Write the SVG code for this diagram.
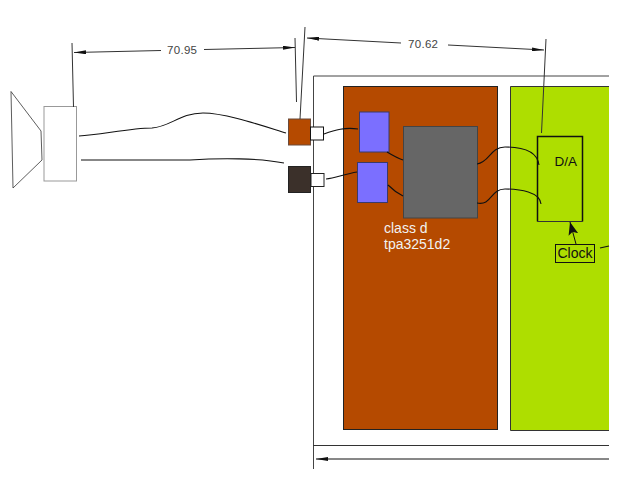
<svg xmlns="http://www.w3.org/2000/svg" width="638" height="479" viewBox="0 0 638 479">
<style>
text{font-family:"Liberation Sans",Arial,sans-serif}
.dim{font-size:11.5px;fill:#444;letter-spacing:.3px}
.l{fill:none;stroke:#333;stroke-width:1}
.w{fill:none;stroke:#111;stroke-width:1.100}
.b{fill:#7b6fff;stroke:#3a3a6a;stroke-width:1}
.t{font-size:14px;fill:#f2f2f2}
</style>
<defs>
<marker id="a" viewBox="0 0 12 4" refX="0" refY="2" markerWidth="12" markerHeight="4" markerUnits="userSpaceOnUse" orient="auto"><path d="M0 2L12 0V4Z" fill="#111"/></marker>
<marker id="e" viewBox="0 0 12 4" refX="12" refY="2" markerWidth="12" markerHeight="4" markerUnits="userSpaceOnUse" orient="auto"><path d="M12 2L0 0V4Z" fill="#111"/></marker>
<marker id="h" viewBox="0 0 13 10" refX="13" refY="5" markerWidth="13" markerHeight="10" markerUnits="userSpaceOnUse" orient="auto"><path d="M13 5L0 0L3 5L0 10Z" fill="#111"/></marker>
</defs>
<rect width="638" height="479" fill="#fff"/>
<g id="enclosure"><path d="M609 76H313.500V469" fill="none" stroke="#444" stroke-width="1"/><path d="M313 445.500H609" stroke="#333" stroke-width="1"/></g>
<g id="speaker"><path d="M11 91.500L41 131L42 160L13 188Z" fill="#fff" stroke="#333" stroke-width=".8"/><rect x="44" y="106.500" width="32.500" height="74.500" fill="#fff" stroke="#999" stroke-width="1"/></g>
<g id="class-d-board"><rect x="343.500" y="86.500" width="154" height="343" fill="#b54a00" stroke="#222" stroke-width="1"/><text class="t" x="384" y="233">class d</text><text class="t" x="384" y="249">tpa3251d2</text></g>
<g id="green-board"><path d="M609 86.500H510.500V430.500H609" fill="#aede00" stroke="#333" stroke-width="1"/></g>
<g id="connector-top"><rect x="288.500" y="119" width="22" height="26" fill="#b54a00" stroke="#6a4a3a" stroke-width="1"/><rect x="310.500" y="127" width="13" height="13" fill="#fff" stroke="#111" stroke-width="1"/></g>
<g id="connector-bottom"><rect x="288.500" y="166.500" width="22" height="26" fill="#3b302a" stroke="#222" stroke-width="1"/><rect x="311" y="173.500" width="13" height="13" fill="#fff" stroke="#222" stroke-width="1"/></g>
<g id="amp-top"><rect x="359.500" y="112" width="29.500" height="40" class="b"/></g>
<g id="amp-bottom"><rect x="357.500" y="162.500" width="30" height="40" class="b"/></g>
<g id="chip"><rect x="403.500" y="126.500" width="74" height="91.500" fill="#666" stroke="#444" stroke-width="1"/></g>
<g id="dac"><path d="M537.500 136.500V221.500H582.500" fill="#aede00" stroke="#555" stroke-width="1"/><path d="M537.500 221.500V136.500H582.500V221.500" fill="#aede00" stroke="#111" stroke-width="1.500"/><path d="M537.500 221.500H582.500" stroke="#333" stroke-width="1"/><text x="554.500" y="166" font-size="13.500" fill="#111">D/A</text></g>
<g id="clock"><rect x="555.500" y="244.500" width="39" height="18" fill="#aede00" stroke="#111" stroke-width="1"/><text x="557.500" y="258" font-size="14" fill="#111">Clock</text></g>
<g id="connectors">
<path class="w" d="M79 136C100 135 130 128 152 128C170 127 180 113 203 113C225 113 260 125 286 133"/>
<path class="w" d="M81 160C120 160 150 160 190 160C220 158 260 158 284 163"/>
<path class="w" d="M324 134C335 130 345 127 358 129"/>
<path class="w" d="M326 179C335 178 345 174 357 172"/>
<path class="w" d="M387 152C392 155 397 158 403 160"/>
<path class="w" d="M388 185C393 190 397 193 403 196"/>
<path class="w" d="M477 164C490 162 490 147 505 147C520 147 537 150 539 165"/>
<path class="w" d="M477 203C492 206 490 189 505 189C520 189 540 192 541 204"/>
<path stroke="#111" stroke-width="1" d="M576 244L570 222" marker-end="url(#h)"/>
<path class="w" d="M600 248L609 246"/>
<path class="l" d="M72 43L73.500 107"/>
<path class="l" d="M295 38L296.500 102"/>
<path class="l" d="M305 27L300 119"/>
<path class="l" d="M546 39L541.500 133"/>
<path class="l" d="M74 52.500L161 50.500" marker-start="url(#a)"/>
<path class="l" d="M204 49.500L295 47.500" marker-end="url(#e)"/>
<path class="l" d="M307 38L401 43" marker-start="url(#a)"/>
<path class="l" d="M448 45L544 50" marker-end="url(#e)"/>
<path stroke="#111" stroke-width="1" d="M316 459H609" marker-start="url(#a)"/>
</g>
<text class="dim" x="167" y="54">70.95</text>
<text class="dim" x="408" y="48">70.62</text>
</svg>
